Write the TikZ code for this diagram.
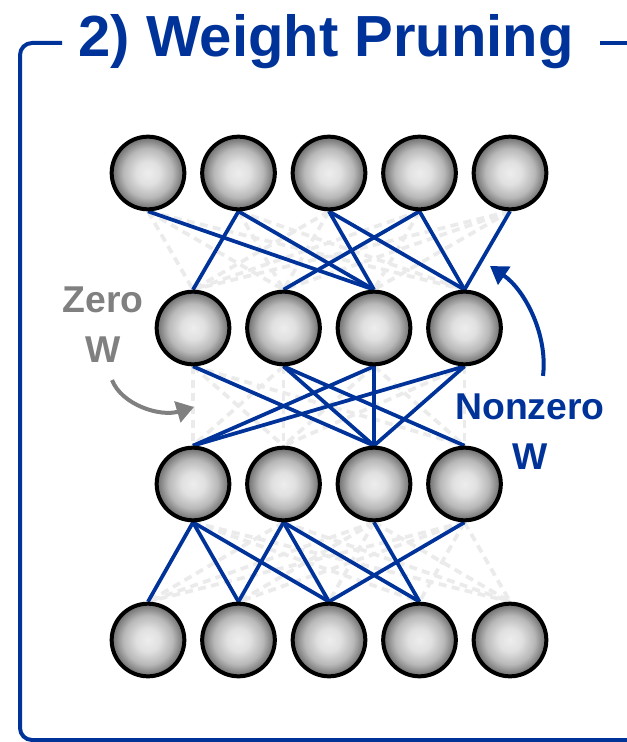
\documentclass[tikz,border=0pt]{standalone}
\usepackage{fontspec}
\setmainfont{Liberation Sans}
\usetikzlibrary{arrows.meta,backgrounds}
\definecolor{pruneblue}{RGB}{0,51,153}
\definecolor{zerogray}{RGB}{128,128,128}
\pgfdeclareradialshading{neuronball}{\pgfpoint{0bp}{0bp}}{color(0bp)=(black!7); color(8bp)=(black!12); color(17bp)=(black!28); color(25bp)=(black!58); color(50bp)=(black!58)}
\begin{document}
\begin{tikzpicture}[x=0.75pt,y=-0.75pt,
neuron/.style={circle,draw=black,line width=3pt,minimum size=54.5pt,inner sep=0pt,shading=neuronball},
kept/.style={draw=pruneblue,line width=2.8pt},
pruned/.style={draw=black!8,line width=2.8pt,dash pattern=on 6pt off 4pt},
frame/.style={draw=pruneblue,line width=3pt,rounded corners=9pt},
note/.style={font=\bfseries\fontsize{28}{37.5}\selectfont,align=center,inner sep=0pt},
curvearrow/.style={line width=3pt,-{Triangle[length=13pt,width=16pt]}}
]
\useasboundingbox (0,0) rectangle (626,742);
\node[font=\bfseries\fontsize{43.5}{50}\selectfont,text=pruneblue,anchor=base,inner sep=0pt] (title) at (326,57) {2) Weight Pruning};
\coordinate (fl) at (62,43);
\coordinate (fr) at (600,43);
\draw[frame] (fl) -- (20,43) -- (20,740) -- (640,740);
\draw[frame] (fr) -- (640,43);
\foreach \i in {1,...,5} {
 \node[neuron] (a\i) at ({148+90.5*(\i-1)},173) {};
 \node[neuron] (d\i) at ({148+90.5*(\i-1)},640) {};
}
\foreach \i in {1,...,4} {
 \node[neuron] (b\i) at ({193+90.5*(\i-1)},328) {};
 \node[neuron] (c\i) at ({193+90.5*(\i-1)},484) {};
}
% zero weights stay as faint dashes, kept weights in blue on top
\begin{scope}[on background layer]
\foreach \u in {1,...,5} \foreach \v in {1,...,4} {
 \draw[pruned] (a\u.south) -- (b\v.north);
 \draw[pruned] (c\v.south) -- (d\u.north);
}
\foreach \u in {1,...,4} \foreach \v in {1,...,4}
 \draw[pruned] (b\u.south) -- (c\v.north);
\foreach \u/\v in {a1/b3,a2/b1,a2/b3,a3/b3,a3/b4,a4/b2,a4/b4,a5/b4,b1/c3,b2/c3,b2/c4,b3/c1,b3/c3,b4/c1,b4/c3,c1/d1,c1/d2,c1/d3,c2/d2,c2/d3,c2/d4,c3/d4,c4/d3}
 \draw[kept] (\u.south) -- (\v.north);
\end{scope}
\node[note,text=zerogray] (zero) at (103,325) {Zero\\W};
\node[note,text=pruneblue] (nonzero) at (530,432) {Nonzero\\W};
\coordinate (zerotip) at (194,407);
\coordinate (nonzerotip) at (490,266);
\draw[curvearrow,draw=zerogray] ([shift={(9,17)}]zero.south) .. controls (122,405) and (160,417) .. (zerotip);
\draw[curvearrow,draw=pruneblue] ([shift={(13,-18)}]nonzero.north) .. controls (548,335) and (525,290) .. (nonzerotip);
\end{tikzpicture}
\end{document}
